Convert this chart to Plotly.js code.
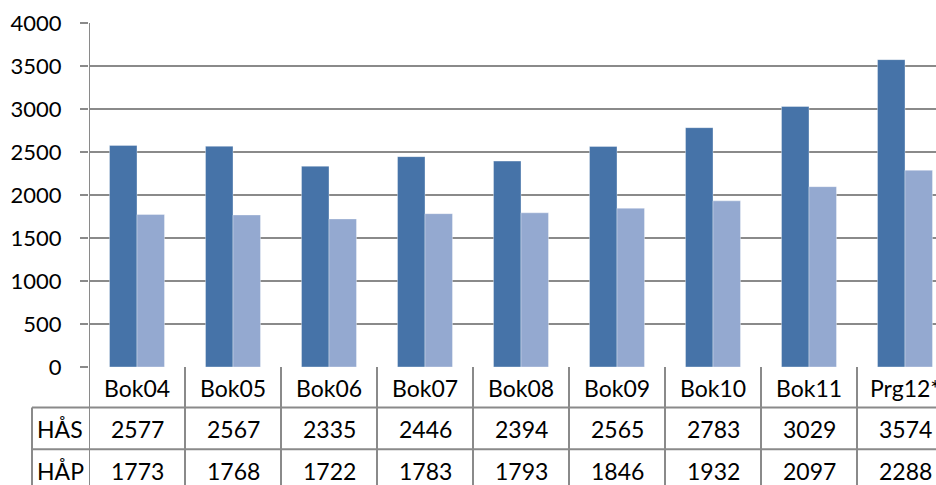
<!DOCTYPE html>
<html><head><meta charset="utf-8">
<script src="https://cdn.plot.ly/plotly-3.0.1.min.js"></script>
<style>html,body{margin:0;padding:0;overflow:hidden;background:#fff}</style>
</head><body><div id="chart"></div>
<script>
const categories = ["Bok04","Bok05","Bok06","Bok07","Bok08","Bok09","Bok10","Bok11","Prg12*"];
const seriesNames = ["HÅS","HÅP"];
const hasValues = [2577,2567,2335,2446,2394,2565,2783,3029,3574];
const hapValues = [1773,1768,1722,1783,1793,1846,1932,2097,2288];
const yTicks = [0,500,1000,1500,2000,2500,3000,3500,4000];

const FONT = "Lato, 'Open Sans', sans-serif";
const FS = 23;
const lineColor = "#8a8a8a";

const L = 89, T = 22.5, PW = 864, PH = 345;
const W = L + PW, H = 485;
const py = px => (T + PH - px) / PH;      // pixel y -> paper y
const pxx = px => (px - L) / PW;          // pixel x -> paper x

const rowTop = [367.5, 408, 450, 492];
const tableRows = [hasValues, hapValues];

const shapes = [];
const annotations = [];
for (let i = 0; i <= categories.length; i++) {
  shapes.push({type:"line", xref:"x", yref:"paper", x0:i-0.5, x1:i-0.5,
    y0: i===0 ? 1 : 0, y1: py(rowTop[3]), line:{color:lineColor, width:2}});
}
[1,2,3].forEach(r => {
  shapes.push({type:"line", xref:"paper", yref:"paper", x0:pxx(32), x1:1.05,
    y0:py(rowTop[r]), y1:py(rowTop[r]), line:{color:lineColor, width:2}});
});
shapes.push({type:"line", xref:"paper", yref:"paper", x0:pxx(32), x1:pxx(32),
  y0:py(rowTop[1]), y1:py(rowTop[3]), line:{color:lineColor, width:2}});

categories.forEach((c, i) => {
  annotations.push({xref:"x", yref:"paper", x:i, y:py((rowTop[0]+rowTop[1])/2+1),
    text:c, showarrow:false, xanchor:"center", yanchor:"middle", font:{family:FONT, size:FS, color:"#000"}});
});
tableRows.forEach((vals, r) => {
  const yc = py((rowTop[r+1]+rowTop[r+2])/2+1);
  annotations.push({xref:"paper", yref:"paper", x:pxx(60), y:yc, text:seriesNames[r],
    showarrow:false, xanchor:"center", yanchor:"middle", font:{family:FONT, size:FS, color:"#000"}});
  vals.forEach((v, i) => {
    annotations.push({xref:"x", yref:"paper", x:i, y:yc, text:String(v),
      showarrow:false, xanchor:"center", yanchor:"middle", font:{family:FONT, size:FS, color:"#000"}});
  });
});

const traces = [
  {type:"bar", name:seriesNames[0], x:categories, y:hasValues,
   marker:{color:"#4673A8", line:{color:"rgba(255,255,255,0.35)", width:1}}},
  {type:"bar", name:seriesNames[1], x:categories, y:hapValues,
   marker:{color:"#94A9D0", line:{color:"rgba(255,255,255,0.35)", width:1}}}
];

const layout = {
  width: W, height: H,
  margin: {l:L, r:0, t:T, b:H-T-PH, pad:0},
  paper_bgcolor:"#fff", plot_bgcolor:"#fff",
  showlegend:false,
  barmode:"group", bargap:0.427, bargroupgap:0,
  font:{family:FONT, size:FS, color:"#000"},
  xaxis:{type:"category", range:[-0.5, categories.length-0.5], showticklabels:false,
    showgrid:false, zeroline:false, showline:false, ticks:""},
  yaxis:{range:[0,4000], tickvals:yTicks, ticktext:yTicks.map(String),
    showgrid:true, gridcolor:lineColor, gridwidth:2, zeroline:false,
    showline:false, ticks:"outside", ticklen:8, tickwidth:2, tickcolor:lineColor,
    ticklabelstandoff:14, tickfont:{family:FONT, size:FS-1, color:"#000"}},
  shapes: shapes,
  annotations: annotations
};

Plotly.newPlot("chart", traces, layout, {displayModeBar:false, staticPlot:true});
</script></body></html>
